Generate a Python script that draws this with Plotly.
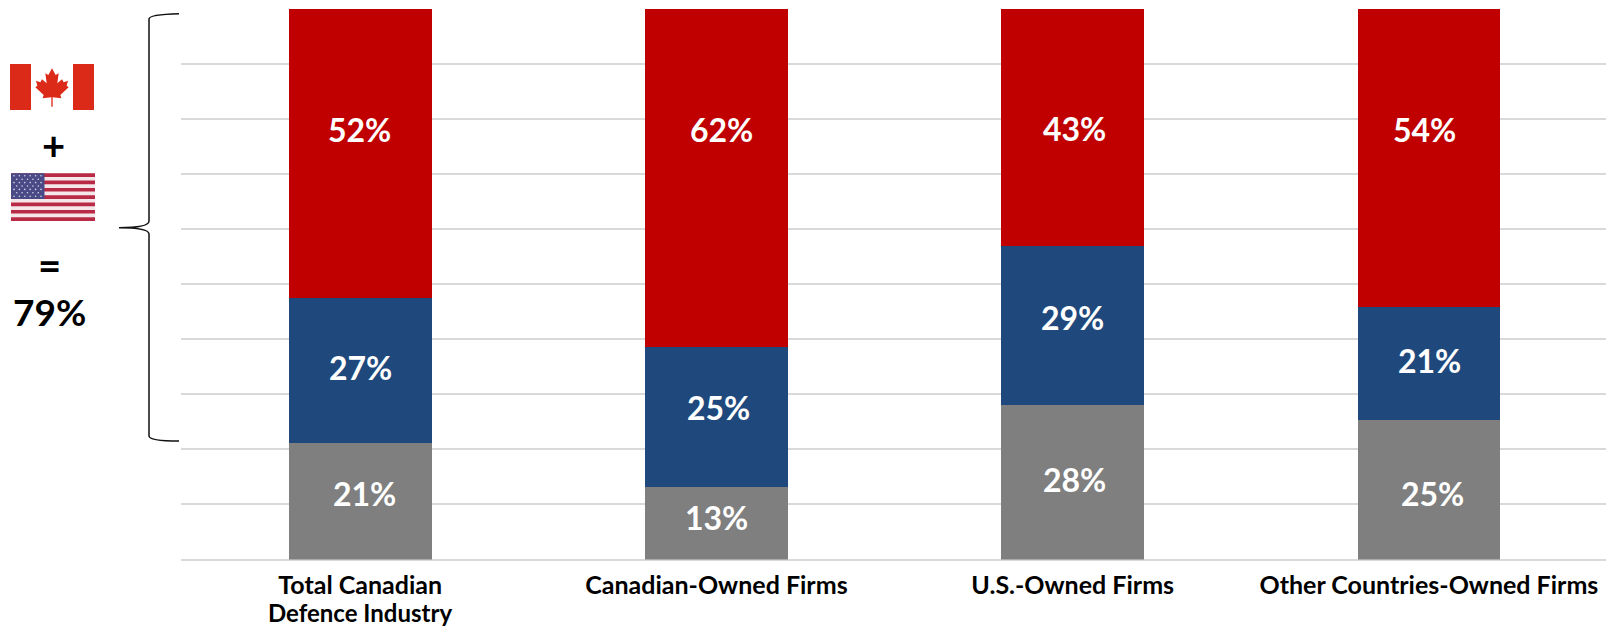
import plotly.graph_objects as go

W, H = 1606, 627
FONT = "Lato"

categories = ["Total Canadian<br>Defence Industry", "Canadian-Owned Firms", "U.S.-Owned Firms", "Other Countries-Owned Firms"]
series_names = ["Other", "United States", "Canada"]
# bar heights as drawn in the picture
other_values = [21.2, 13.2, 28.0, 25.4]
us_values = [26.4, 25.4, 28.9, 20.5]
canada_values = [52.4, 61.4, 43.1, 54.1]
# percentages as printed on the bars
other_labels = [21, 13, 28, 25]
us_labels = [27, 25, 29, 21]
canada_labels = [52, 62, 43, 54]
series_colors = ["#7F7F7F", "#1F497D", "#C00000"]

# manual label nudges (px) from each printed segment's centre, as in the source slide
label_shift = {
    0: [(4, 8), (0, 6), (2, 3), (4, -3)],
    1: [(0, 2), (2, 12), (0, 8), (1, 4)],
    2: [(-1, 23), (5, 50), (2, -1.5), (-4, 28)],
}

fig = go.Figure()
all_values = [other_values, us_values, canada_values]
all_labels = [other_labels, us_labels, canada_labels]
for name, vals, col in zip(series_names, all_values, series_colors):
    fig.add_trace(go.Bar(x=categories, y=vals, name=name, marker=dict(color=col, line=dict(width=0)),
                         width=0.401, hoverinfo="skip"))

anns = []
for s, labs in enumerate(all_labels):
    for c, v in enumerate(labs):
        base = sum(all_labels[k][c] for k in range(s))
        dx, dy = label_shift[s][c]
        anns.append(dict(x=categories[c], y=base + v / 2, xref="x", yref="y", text=f"<b>{v}%</b>",
                         showarrow=False, xshift=dx, yshift=dy,
                         font=dict(family=FONT, size=32, color="white")))


def px(x):
    return x / W


def py(y):
    return 1 - y / H


def path(points, close=True):
    d = "M " + " L ".join(f"{px(x):.5f},{py(y):.5f}" for x, y in points)
    return d + (" Z" if close else "")


def rect(x0, y0, x1, y1, color):
    return dict(type="rect", xref="paper", yref="paper", x0=px(x0), x1=px(x1), y0=py(y1), y1=py(y0),
                fillcolor=color, line=dict(width=0), layer="above")


shapes = []
# Canadian flag
shapes.append(rect(10, 64, 94, 110, "#DC2A18"))
shapes.append(rect(31, 64, 73, 110, "#FFFFFF"))
half = [(0, 85), (11, 105), (20, 100), (16, 130), (30, 118), (35, 127), (48, 122), (44, 137), (50, 142),
        (25, 165), (28, 175), (2, 172), (2, 200)]
cx = 52
leaf = [(cx + a / 3, 40 + b / 3) for a, b in half] + [(cx - a / 3, 40 + b / 3) for a, b in reversed(half)]
shapes.append(dict(type="path", xref="paper", yref="paper", path=path(leaf), fillcolor="#DC2A18",
                   line=dict(width=0), layer="above"))
# US flag
fx0, fx1, fy0, fy1 = 11, 95, 173.3, 220.9
h = (fy1 - fy0) / 13
shapes.append(rect(fx0, fy0, fx1, fy1, "#F4E6E9"))
for i in range(0, 13, 2):
    shapes.append(rect(fx0, fy0 + i * h, fx1, fy0 + (i + 1) * h, "#B82A45"))
shapes.append(rect(fx0, fy0, 44.5, fy0 + 7 * h, "#4A4A87"))
for r in range(7):
    n = 6 if r % 2 == 0 else 5
    off = 0 if r % 2 == 0 else 2.7
    for k in range(n):
        sx = fx0 + 3 + off + k * 5.4
        sy = fy0 + 2.5 + r * 3.4
        shapes.append(dict(type="circle", xref="paper", yref="paper", x0=px(sx - .8), x1=px(sx + .8),
                           y0=py(sy + .8), y1=py(sy - .8), fillcolor="#D5D5E6", line=dict(width=0), layer="above"))
# brace
bx = 149
brace = (f"M {px(179):.5f},{py(13.7):.5f} C {px(165):.5f},{py(14):.5f} {px(bx):.5f},{py(15):.5f} {px(bx):.5f},{py(19):.5f} "
         f"L {px(bx):.5f},{py(221):.5f} C {px(bx):.5f},{py(226):.5f} {px(135):.5f},{py(227.7):.5f} {px(119):.5f},{py(227.7):.5f} "
         f"C {px(135):.5f},{py(227.7):.5f} {px(bx):.5f},{py(229):.5f} {px(bx):.5f},{py(234):.5f} "
         f"L {px(bx):.5f},{py(436):.5f} C {px(bx):.5f},{py(440):.5f} {px(165):.5f},{py(441):.5f} {px(179):.5f},{py(441):.5f}")
shapes.append(dict(type="path", xref="paper", yref="paper", path=brace, line=dict(color="#111111", width=1.5)))

for txt, x, y, size in [("+", 53, 145, 40), ("=", 49, 265, 40), ("79%", 49, 311, 37)]:
    anns.append(dict(x=px(x), y=py(y), xref="paper", yref="paper", text=f"<b>{txt}</b>", showarrow=False,
                     xanchor="center", yanchor="middle", font=dict(family=FONT, size=size, color="black")))

# extra tick-label lines, set tighter than the axis's own line height
tick_first = [c.split("<br>")[0] for c in categories]
for c in categories:
    for line in c.split("<br>")[1:]:
        anns.append(dict(x=c, y=py(612), xref="x", yref="paper", text=f"<b>{line}</b>", showarrow=False,
                         xanchor="center", yanchor="middle", font=dict(family=FONT, size=24, color="black")))

fig.update_layout(
    width=W, height=H, autosize=False, barmode="stack", showlegend=False, bargap=0.6,
    paper_bgcolor="white", plot_bgcolor="white",
    margin=dict(l=0, r=0, t=0, b=0),
    xaxis=dict(domain=[181 / W, 1], range=[-0.503, 3.497], tickfont=dict(family=FONT, size=25, color="black"),
               showgrid=False, showline=False, ticks="", zeroline=False, ticklabelstandoff=8,
               tickvals=categories, ticktext=[f"<b>{t}</b>" for t in tick_first]),
    yaxis=dict(domain=[1 - 559.5 / H, 1 - 8.8 / H], range=[0, 100.05], dtick=10, showticklabels=False, showgrid=True,
               gridcolor="#D9D9D9", gridwidth=2, zeroline=True, zerolinecolor="#D9D9D9", zerolinewidth=2,
               showline=False, ticks=""),
    shapes=shapes, annotations=anns,
)
fig.write_html("out.html", config=dict(displayModeBar=False),
               post_script="document.body.style.margin='0';document.body.style.overflow='hidden';")
